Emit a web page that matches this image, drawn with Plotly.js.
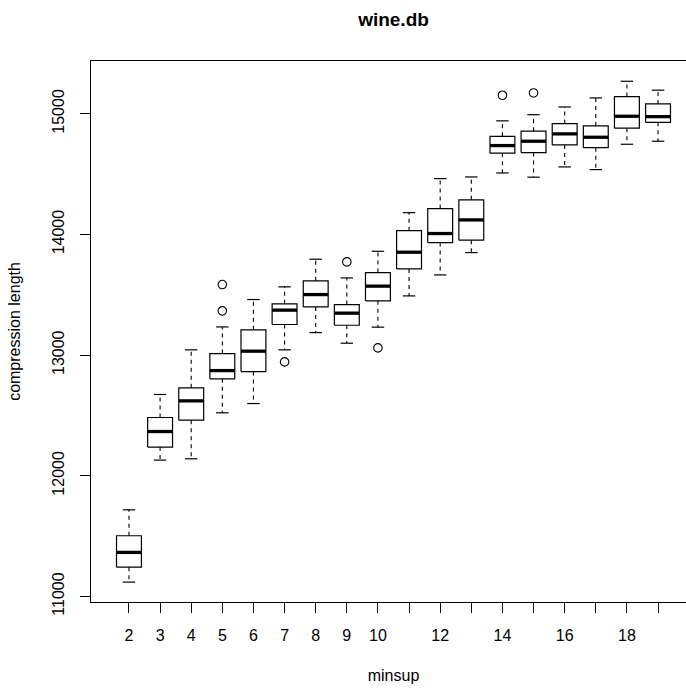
<!DOCTYPE html>
<html>
<head>
<meta charset="utf-8">
<script src="https://cdn.plot.ly/plotly-3.0.1.min.js"></script>
<style>
html, body { margin: 0; padding: 0; overflow: hidden; background: #fff; }
#chart { width: 700px; height: 690px; }
</style>
</head>
<body>
<div id="chart"></div>
<script>
// ---- data ----
const minsup      = [2, 3, 4, 5, 6, 7, 8, 9, 10, 11, 12, 13, 14, 15, 16, 17, 18, 19];
const lowerWhisk  = [11119, 12130, 12141, 12522, 12599, 13044, 13187, 13099, 13232, 13491, 13665, 13850, 14510, 14475, 14560, 14538, 14748, 14773];
const q1          = [11243, 12238, 12461, 12804, 12864, 13254, 13400, 13248, 13450, 13715, 13933, 13953, 14674, 14679, 14742, 14720, 14881, 14930];
const medians     = [11365, 12367, 12621, 12872, 13033, 13373, 13502, 13348, 13572, 13853, 14008, 14121, 14737, 14773, 14834, 14806, 14980, 14977];
const q3          = [11503, 12483, 12729, 13013, 13210, 13425, 13616, 13419, 13684, 14032, 14215, 14287, 14814, 14856, 14919, 14900, 15143, 15082];
const upperWhisk  = [11718, 12674, 13044, 13234, 13461, 13566, 13795, 13640, 13861, 14181, 14463, 14477, 14942, 14993, 15057, 15132, 15270, 15196];
const outlierX    = [5, 5, 7, 9, 10, 14, 15];
const outlierY    = [13585, 13367, 12944, 13773, 13060, 15154, 15173];
const xTickLabels = ['2', '3', '4', '5', '6', '7', '8', '9', '10', '', '12', '', '14', '', '16', '', '18', ''];
const yTickVals   = [11000, 12000, 13000, 14000, 15000];

// ---- build box-plot geometry in data coordinates ----
const halfBox = 0.4, halfStaple = 0.2;
const rectX = [], rectY = [], medX = [], medY = [], whX = [], whY = [], stX = [], stY = [];
minsup.forEach((x, i) => {
  rectX.push(x - halfBox, x + halfBox, x + halfBox, x - halfBox, x - halfBox, null);
  rectY.push(q1[i], q1[i], q3[i], q3[i], q1[i], null);
  medX.push(x - halfBox, x + halfBox, null);
  medY.push(medians[i], medians[i], null);
  whX.push(x, x, null, x, x, null);
  whY.push(q3[i], upperWhisk[i], null, q1[i], lowerWhisk[i], null);
  stX.push(x - halfStaple, x + halfStaple, null, x - halfStaple, x + halfStaple, null);
  stY.push(upperWhisk[i], upperWhisk[i], null, lowerWhisk[i], lowerWhisk[i], null);
});

const ink = '#000000';
const traces = [
  { type: 'scatter', mode: 'lines', x: whX, y: whY, line: { color: ink, width: 1.1, dash: '4px,4px' }, hoverinfo: 'skip', connectgaps: false },
  { type: 'scatter', mode: 'lines', x: stX, y: stY, line: { color: ink, width: 1.2 }, hoverinfo: 'skip', connectgaps: false },
  { type: 'scatter', mode: 'lines', x: rectX, y: rectY, line: { color: ink, width: 1.2 }, hoverinfo: 'skip', connectgaps: false },
  { type: 'scatter', mode: 'lines', x: medX, y: medY, line: { color: ink, width: 3.3 }, hoverinfo: 'skip', connectgaps: false },
  { type: 'scatter', mode: 'markers', x: outlierX, y: outlierY,
    marker: { symbol: 'circle-open', size: 8.5, color: ink, line: { color: ink, width: 1.1 } }, hoverinfo: 'skip' }
];

const font = 'Liberation Sans, Arial, Helvetica, sans-serif';
const layout = {
  width: 700, height: 690,
  margin: { l: 91, r: 4, t: 61, b: 88, pad: 0 },
  paper_bgcolor: '#ffffff', plot_bgcolor: '#ffffff',
  showlegend: false,
  font: { family: font, color: ink, size: 16 },
  title: {
    text: '<b>wine.db</b>',
    font: { family: font, size: 19, color: ink },
    xref: 'paper', x: 0.5, xanchor: 'center',
    yref: 'container', y: 1 - 19 / 690, yanchor: 'middle'
  },
  xaxis: {
    range: [0.78, 20.22],
    tickmode: 'array', tickvals: minsup, ticktext: xTickLabels,
    ticks: 'outside', ticklen: 10, tickwidth: 1, tickcolor: ink,
    ticklabelstandoff: 9,
    tickfont: { family: font, size: 16, color: ink },
    showgrid: false, zeroline: false,
    showline: true, linecolor: ink, linewidth: 1, mirror: true,
    title: { text: 'minsup', font: { family: font, size: 16, color: ink }, standoff: 26 }
  },
  yaxis: {
    range: [10954, 15438],
    tickmode: 'array', tickvals: yTickVals, ticktext: yTickVals.map(String),
    tickangle: -90,
    ticks: 'outside', ticklen: 10, tickwidth: 1, tickcolor: ink,
    ticklabelstandoff: 10,
    tickfont: { family: font, size: 16, color: ink },
    showgrid: false, zeroline: false,
    showline: true, linecolor: ink, linewidth: 1, mirror: true,
    title: { text: 'compression length', font: { family: font, size: 16, color: ink }, standoff: 24 }
  }
};

Plotly.newPlot('chart', traces, layout, { displayModeBar: false, staticPlot: true });
</script>
</body>
</html>
